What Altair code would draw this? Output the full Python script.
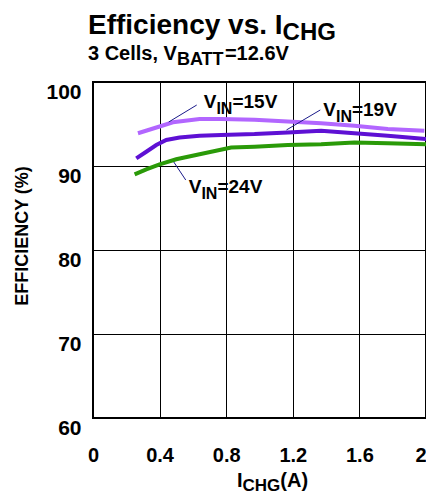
import altair as alt
import pandas as pd

# ---- data ----
I_15 = [0.27, 0.40, 0.48, 0.64, 0.77, 0.97, 1.17, 1.37, 1.57, 1.77, 1.99]
E_15 = [93.9, 94.7, 95.2, 95.6, 95.6, 95.5, 95.3, 95.1, 94.8, 94.4, 94.2]

I_19 = [0.26, 0.32, 0.38, 0.44, 0.52, 0.64, 0.77, 0.97, 1.17, 1.37, 1.57, 1.77, 2.0]
E_19 = [90.9, 91.7, 92.5, 93.1, 93.4, 93.6, 93.7, 93.8, 94.0, 94.2, 93.9, 93.6, 93.2]

I_24 = [0.25, 0.32, 0.40, 0.50, 0.64, 0.83, 0.97, 1.17, 1.37, 1.57, 1.77, 2.0]
E_24 = [89.0, 89.6, 90.2, 90.8, 91.4, 92.2, 92.3, 92.5, 92.6, 92.8, 92.7, 92.6]

series_names = ["VIN=15V", "VIN=19V", "VIN=24V"]
series_colors = ["#b266ff", "#5e10d4", "#2a9a08"]

x_ticks = [0, 0.4, 0.8, 1.2, 1.6, 2]
y_ticks = [60, 70, 80, 90, 100]

# label anchors (data coords) and leader lines
label_I = [0.665, 1.383, 0.575]
label_E = [96.9, 95.95, 86.8]
label_rest = ["=15V", "=19V", "=24V"]
lead_I = [0.455, 1.162, 0.485]
lead_E = [95.24, 94.29, 90.48]
lead_I2 = [0.623, 1.365, 0.557]
lead_E2 = [97.26, 96.67, 88.33]

FONT = "Liberation Sans"

# Arial/Liberation Sans Bold advance widths (em)
W = {"V": .667, "I": .278, "N": .722, "=": .584, ".": .278, " ": .278, "C": .722,
     "H": .722, "G": .778, "B": .722, "A": .722, "T": .611, "E": .667, "f": .333,
     "i": .278, "c": .556, "e": .556, "n": .611, "y": .556, "v": .556, "s": .556,
     "l": .278, ",": .278, "(": .333, ")": .333, "%": .889, "F": .611, "Y": .667}
for d in "0123456789":
    W[d] = .556


def tw(s, size):
    return sum(W.get(c, .6) for c in s) * size


rows = []
for name, xs, ys in zip(series_names, [I_15, I_19, I_24], [E_15, E_19, E_24]):
    for a, b in zip(xs, ys):
        rows.append({"series": name, "I": a, "eff": b})
df = pd.DataFrame(rows)

xscale = alt.Scale(domain=[0, 2], nice=False)
yscale = alt.Scale(domain=[60, 100], nice=False)

lines = alt.Chart(df).mark_line(strokeWidth=4).encode(
    x=alt.X("I:Q", scale=xscale,
            axis=alt.Axis(values=x_ticks, format="~g", title=None, labelPadding=27,
                          labelFontSize=20,
                          labelAlign={"condition": {"test": "datum.value == 2", "value": "right"},
                                      "value": "center"})),
    y=alt.Y("eff:Q", scale=yscale,
            axis=alt.Axis(values=y_ticks, title=None, labelPadding=12, labelOffset=10,
                          labelFontSize=21)),
    color=alt.Color("series:N", scale=alt.Scale(domain=series_names, range=series_colors),
                    legend=None),
    order="I:Q",
)

leaders = alt.Chart(pd.DataFrame({"I": lead_I, "eff": lead_E, "I2": lead_I2, "eff2": lead_E2})
                    ).mark_rule(color="#1a1a8a", strokeWidth=1).encode(
    x=alt.X("I:Q", scale=xscale), x2="I2:Q",
    y=alt.Y("eff:Q", scale=yscale), y2="eff2:Q")

layers = [lines, leaders]


def data_pieces(pieces, xv, yv):
    out = []
    off = 0.0
    for txt, size, dy in pieces:
        out.append(alt.Chart(pd.DataFrame({"I": [xv], "eff": [yv]})).mark_text(
            text=txt, font=FONT, fontWeight="bold", fontSize=size, align="left",
            baseline="alphabetic", dx=off, dy=dy, color="black").encode(
            x=alt.X("I:Q", scale=xscale), y=alt.Y("eff:Q", scale=yscale)))
        off += tw(txt, size)
    return out


def pixel_pieces(pieces, px, py):
    out = []
    off = 0.0
    for txt, size, dy in pieces:
        out.append(alt.Chart(pd.DataFrame({"a": [0]})).mark_text(
            text=txt, font=FONT, fontWeight="bold", fontSize=size, align="left",
            baseline="alphabetic", color="black").encode(
            x=alt.value(px + off), y=alt.value(py + dy)))
        off += tw(txt, size)
    return out


for xv, yv, rest in zip(label_I, label_E, label_rest):
    layers += data_pieces([("V", 19, 0), ("IN", 16, 6), (rest, 19, 0)], xv, yv)

layers += pixel_pieces([("Efficiency vs. I", 28, 0), ("CHG", 24, 6)], -5, -48)
layers += pixel_pieces([("3 Cells, V", 20, 0), ("BATT", 18, 5), ("=12.6V", 20, 0)], -5, -22)
layers += pixel_pieces([("I", 20, 0), ("CHG", 17, 4), ("(A)", 20, 0)], 144, 405)

layers.append(alt.Chart(pd.DataFrame({"a": [0]})).mark_text(
    text="EFFICIENCY (%)", font=FONT, fontWeight="bold", fontSize=18, angle=270,
    align="center", baseline="middle", color="black").encode(
    x=alt.value(-70), y=alt.value(154)))

chart = alt.layer(*layers).properties(
    width=333, height=336,
    autosize=alt.AutoSizeParams(type="none"),
    padding={"left": 85, "top": 74, "right": 0, "bottom": 78},
).configure_view(stroke="black", strokeWidth=2).configure_axis(
    grid=True, gridColor="black", gridWidth=1, gridOpacity=1, domain=False, ticks=False,
    labelFont=FONT, labelFontWeight="bold", labelColor="black",
)

chart.save("out.html", embed_options={"renderer": "svg", "actions": False})
